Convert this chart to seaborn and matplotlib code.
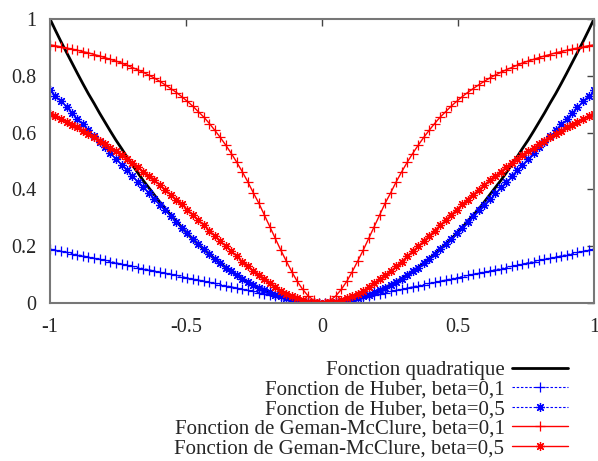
import numpy as np
import matplotlib
matplotlib.use("Agg")
import matplotlib.pyplot as plt
import seaborn as sns

# sample points for x >= 0 (gnuplot 100 samples on [-1, 1]); curves are even, mirrored below
x_half = [0.010, 0.030, 0.051, 0.071, 0.091, 0.111, 0.131, 0.152, 0.172, 0.192,
          0.212, 0.232, 0.253, 0.273, 0.293, 0.313, 0.333, 0.354, 0.374, 0.394,
          0.414, 0.434, 0.455, 0.475, 0.495, 0.515, 0.535, 0.556, 0.576, 0.596,
          0.616, 0.636, 0.657, 0.677, 0.697, 0.717, 0.737, 0.758, 0.778, 0.798,
          0.818, 0.838, 0.859, 0.879, 0.899, 0.919, 0.939, 0.960, 0.980, 1.000]

quad = [0.000, 0.001, 0.003, 0.005, 0.008, 0.012, 0.017, 0.023, 0.029, 0.037,
        0.045, 0.054, 0.064, 0.074, 0.086, 0.098, 0.111, 0.125, 0.140, 0.155,
        0.172, 0.189, 0.207, 0.225, 0.245, 0.265, 0.287, 0.309, 0.331, 0.355,
        0.380, 0.405, 0.431, 0.458, 0.486, 0.514, 0.544, 0.574, 0.605, 0.637,
        0.669, 0.703, 0.737, 0.772, 0.808, 0.845, 0.882, 0.921, 0.960, 1.000]

huber_01 = [0.000, 0.001, 0.003, 0.005, 0.008, 0.012, 0.016, 0.020, 0.024, 0.028,
            0.032, 0.036, 0.041, 0.045, 0.049, 0.053, 0.057, 0.061, 0.065, 0.069,
            0.073, 0.077, 0.081, 0.085, 0.089, 0.093, 0.097, 0.101, 0.105, 0.109,
            0.113, 0.117, 0.121, 0.125, 0.129, 0.133, 0.137, 0.142, 0.146, 0.150,
            0.154, 0.158, 0.162, 0.166, 0.170, 0.174, 0.178, 0.182, 0.186, 0.190]

huber_05 = [0.000, 0.001, 0.003, 0.005, 0.008, 0.012, 0.017, 0.023, 0.029, 0.037,
            0.045, 0.054, 0.064, 0.074, 0.086, 0.098, 0.111, 0.125, 0.140, 0.155,
            0.172, 0.189, 0.207, 0.225, 0.245, 0.265, 0.285, 0.306, 0.326, 0.346,
            0.366, 0.386, 0.407, 0.427, 0.447, 0.467, 0.487, 0.508, 0.528, 0.548,
            0.568, 0.588, 0.609, 0.629, 0.649, 0.669, 0.689, 0.710, 0.730, 0.750]

gm_01 = [0.001, 0.009, 0.025, 0.048, 0.076, 0.110, 0.147, 0.187, 0.228, 0.269,
         0.310, 0.351, 0.389, 0.427, 0.462, 0.495, 0.526, 0.556, 0.583, 0.608,
         0.632, 0.654, 0.674, 0.693, 0.710, 0.726, 0.741, 0.755, 0.768, 0.780,
         0.792, 0.802, 0.812, 0.821, 0.829, 0.837, 0.845, 0.852, 0.858, 0.864,
         0.870, 0.875, 0.881, 0.885, 0.890, 0.894, 0.898, 0.902, 0.906, 0.909]

gm_05 = [0.000, 0.002, 0.005, 0.010, 0.016, 0.024, 0.033, 0.044, 0.056, 0.069,
         0.083, 0.097, 0.113, 0.129, 0.146, 0.164, 0.182, 0.200, 0.218, 0.237,
         0.255, 0.274, 0.292, 0.311, 0.329, 0.347, 0.364, 0.382, 0.399, 0.415,
         0.432, 0.447, 0.463, 0.478, 0.493, 0.507, 0.521, 0.534, 0.547, 0.560,
         0.572, 0.584, 0.596, 0.607, 0.618, 0.628, 0.638, 0.648, 0.658, 0.667]

labels = ["Fonction quadratique",
          "Fonction de Huber, beta=0,1",
          "Fonction de Huber, beta=0,5",
          "Fonction de Geman-McClure, beta=0,1",
          "Fonction de Geman-McClure, beta=0,5"]

xticks = [-1, -0.5, 0, 0.5, 1]
xticklabels = ["-1", "-0.5", "0", "0.5", "1"]
yticks = [0, 0.2, 0.4, 0.6, 0.8, 1]
yticklabels = ["0", "0.2", "0.4", "0.6", "0.8", "1"]


def mirror(v, neg=False):
    v = np.asarray(v)
    left = -v[::-1] if neg else v[::-1]
    return np.concatenate([left, v])


x = mirror(x_half, neg=True)

sns.set_style("white")
plt.rcParams['font.family'] = ['Liberation Serif', 'DejaVu Serif']

fig = plt.figure(figsize=(5.98, 4.61), dpi=100)
ax = fig.add_axes([50 / 598, 1 - 303 / 461, 544 / 598, 284 / 461])

dash = (0, (2.2, 1.6))
star = (8, 2, 0)
blue, red = "#0000ff", "#ff0000"
series = [
    (quad, "black", "-", 2.0, None),
    (huber_01, blue, dash, 0.8, "+"),
    (huber_05, blue, dash, 0.8, star),
    (gm_01, red, "-", 1.0, "+"),
    (gm_05, red, "-", 1.0, star),
]

for (vals, col, ls, lw, mk), lab in zip(series, labels):
    sns.lineplot(x=x, y=mirror(vals), ax=ax, sort=False, estimator=None,
                 color=col, linestyle=ls, linewidth=lw, label=lab,
                 marker=mk, markersize=6.5, markeredgewidth=0.9,
                 markeredgecolor=col, markerfacecolor=col)

ax.set_xlim(-1, 1)
ax.set_ylim(0, 1)
ax.set_xticks(xticks)
ax.set_xticklabels(xticklabels)
ax.set_yticks(yticks)
ax.set_yticklabels(yticklabels)
ax.tick_params(direction="in", length=5, width=1, color="#444444",
               top=True, right=True, labelsize=14.5)
ax.tick_params(axis="x", pad=11)
ax.tick_params(axis="y", pad=10)
for s in ax.spines.values():
    s.set_color("#777777")
    s.set_linewidth(1.5)

handles, labs = ax.get_legend_handles_labels()
ax.get_legend().remove()
fig.legend(handles, labs, loc="lower right", bbox_to_anchor=(568 / 598, 0.006),
           borderaxespad=0, frameon=False, markerfirst=False, fontsize=15,
           handlelength=2.7, handletextpad=0.35, labelspacing=0.0,
           borderpad=0, numpoints=1)

fig.savefig("out.png", dpi=100)
